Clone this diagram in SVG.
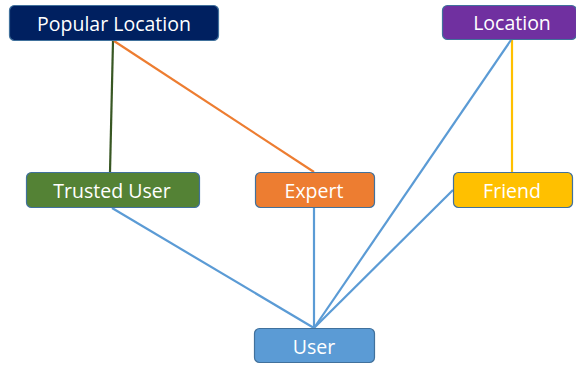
<svg xmlns="http://www.w3.org/2000/svg" width="576" height="365" viewBox="0 0 576 365">
  <style>
    .box { stroke: #41719C; stroke-width: 1.2; }
    .lbl { font-family: "Open Sans", "Noto Sans", sans-serif; font-size: 19.5px; fill: #FFFFFF; text-anchor: middle; dominant-baseline: central; }
    .edge { fill: none; stroke-width: 2.2; }
    .blue { stroke: #5B9BD5; }
  </style>
  <rect width="576" height="365" fill="#FFFFFF"/>
  <g id="connectors">
    <line class="edge" x1="113" y1="41" x2="110" y2="172" stroke="#385723"/>
    <line class="edge" x1="114" y1="41" x2="314" y2="172" stroke="#ED7D31"/>
    <line class="edge" x1="512" y1="40" x2="512" y2="172" stroke="#FFC000"/>
    <line class="edge blue" x1="112" y1="208" x2="314" y2="328"/>
    <line class="edge blue" x1="314" y1="208" x2="314" y2="328"/>
    <line class="edge blue" x1="453" y1="190" x2="314" y2="328"/>
    <line class="edge blue" x1="511" y1="40" x2="314" y2="328"/>
  </g>
  <g id="popular-location">
    <rect class="box" x="9.5" y="5.5" width="209" height="35" rx="5" fill="#002060"/>
    <text class="lbl" x="114" y="23">Popular Location</text>
  </g>
  <g id="location">
    <rect class="box" x="442.5" y="5.5" width="134" height="34" rx="5" fill="#7030A0"/>
    <text class="lbl" x="512" y="22">Location</text>
  </g>
  <g id="trusted-user">
    <rect class="box" x="26.5" y="172.5" width="173" height="35" rx="5" fill="#548235"/>
    <text class="lbl" x="112" y="190">Trusted User</text>
  </g>
  <g id="expert">
    <rect class="box" x="255.5" y="172.5" width="119" height="35" rx="5" fill="#ED7D31"/>
    <text class="lbl" x="314" y="190">Expert</text>
  </g>
  <g id="friend">
    <rect class="box" x="453.5" y="172.5" width="119" height="35" rx="5" fill="#FFC000"/>
    <text class="lbl" x="512" y="190">Friend</text>
  </g>
  <g id="user">
    <rect class="box" x="254.5" y="328.5" width="120" height="34" rx="5" fill="#5B9BD5"/>
    <text class="lbl" x="314" y="346">User</text>
  </g>
</svg>
